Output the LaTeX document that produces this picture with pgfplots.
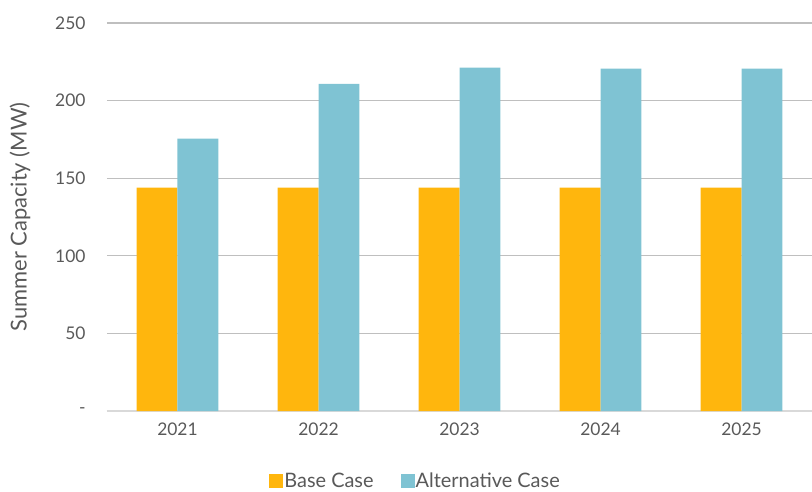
\documentclass[border=0pt]{standalone}
\usepackage{pgfplots}
\pgfplotsset{compat=1.18}
\usepackage{fontspec}
\setmainfont{Lato}
\definecolor{basec}{HTML}{FFB60D}
\definecolor{altc}{HTML}{7FC3D3}
\definecolor{txt}{HTML}{595959}
\definecolor{grid}{HTML}{D9D9D9}
\begin{document}
\begin{tikzpicture}
\path[use as bounding box] (-107bp,-81bp) rectangle (705bp,411bp);
\begin{axis}[
  scale only axis, width=705bp, height=388bp,
  ybar=0pt, bar width=0.29,
  xmin=-0.5, xmax=4.5, ymin=0, ymax=250,
  xtick=data, xticklabels={2021,2022,2023,2024,2025},
  ytick={0,50,100,150,200,250},
  yticklabels={-,50,100,150,200,250},
  axis x line*=bottom, axis y line*=left,
  x axis line style={grid, line width=1.2bp, -},
  y axis line style={draw=none},
  xmajorgrids=false, ymajorgrids=true, grid style={grid, line width=1.2bp},
  major tick length=0pt,
  tick label style={font=\fontsize{17.5}{19}\selectfont, text=txt},
  yticklabel style={anchor=east, xshift=-18bp},
  xticklabel style={yshift=-8bp},
  ylabel={Summer Capacity (MW)},
  every axis y label/.style={at={(-87bp,194bp)}, rotate=90, anchor=center,
    font=\fontsize{22}{24}\selectfont, text=txt},
  legend style={draw=none, at={(0.437,-0.18)}, anchor=center, inner sep=0pt,
    legend columns=-1, font=\fontsize{20}{22}\selectfont, text=txt,
    nodes={inner sep=1bp},
    /tikz/every even column/.append style={column sep=26bp}},
  legend image code/.code={\fill[#1] (3bp,-7bp) rectangle (17bp,7bp);},
]
\addplot[fill=basec, draw=none] coordinates {(0,144) (1,144) (2,144) (3,144) (4,144)};
\addplot[fill=altc, draw=none] coordinates {(0,175.5) (1,210.7) (2,221.2) (3,220.6) (4,220.6)};
\legend{Base Case, Alternative Case}
\end{axis}
\end{tikzpicture}
\end{document}
